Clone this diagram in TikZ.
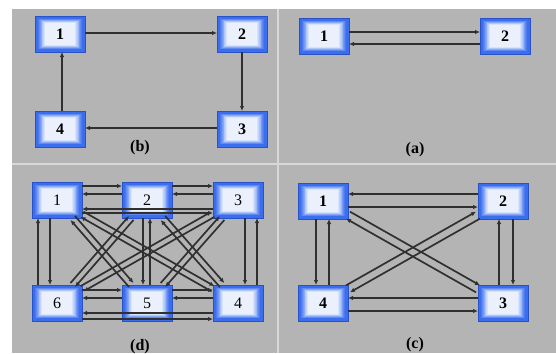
\documentclass[tikz,border=0pt]{standalone}
\usepackage{fontspec}
\setmainfont{Liberation Serif}
\usetikzlibrary{calc,arrows.meta}
\definecolor{panel}{HTML}{B4B4B4}
\definecolor{divider}{HTML}{D8D8D8}
\definecolor{boxblue}{HTML}{3A6EEE}
\definecolor{boxedge}{HTML}{2A52C8}
\definecolor{linec}{HTML}{303030}
\tikzset{
 box/.style={rectangle, minimum width=50pt, minimum height=36pt, inner sep=0pt, outer sep=0pt,
   fill=boxblue, draw=boxedge, line width=0.6pt, text=black,
   font=\fontsize{16}{18}\selectfont\bfseries,
   path picture={\foreach \k in {0,...,9}{\pgfmathtruncatemacro\p{\k*10}
     \fill[white!\p!boxblue] ($(path picture bounding box.south west)+(\k*0.8pt+2.5pt,\k*0.55pt+2pt)$) rectangle ($(path picture bounding box.north east)-(\k*0.8pt+2.5pt,\k*0.55pt+2pt)$);}}},
 dbox/.style={box, font=\fontsize{16}{18}\selectfont},
 ghost/.style={rectangle, minimum width=50pt, minimum height=36pt, inner sep=0pt, outer sep=0pt},
 conn/.style={draw=linec, line width=1.7pt, -{Latex[length=5pt,width=4.5pt]}},
 heavy/.style={line width=2.6pt},
 lbl/.style={font=\fontsize{16}{18}\selectfont\bfseries, text=black},
}
\newcommand\myarr[4][]{%
 \node[ghost] (#2#3s) at ($(#2)!#4pt!90:(#3)$) {};
 \node[ghost] (#2#3t) at ($(#3)!#4pt!-90:(#2)$) {};
 \draw[conn,#1] (#2#3s) -- (#2#3t);
}
\begin{document}
\begin{tikzpicture}[x=1pt,y=-1pt]
\useasboundingbox (0,0) rectangle (556,353);
\fill[white] (0,0) rectangle (556,353);
\fill[panel] (12,9) rectangle (556,353);
\draw[divider, line width=2pt] (278,9) -- (278,353);
\draw[divider, line width=2pt] (12,164) -- (556,164);

% panel (b)
\node[box] (b1) at (60,34) {1};
\node[box] (b2) at (242,34) {2};
\node[box] (b3) at (242,129) {3};
\node[box] (b4) at (60,129) {4};
\myarr{b1}{b2}{1}
\myarr{b2}{b3}{0}
\myarr{b3}{b4}{-1}
\myarr{b4}{b1}{-2}
\node[lbl] (lb) at (140,148) {(b)};

% panel (a)
\node[box] (a1) at (324,36) {1};
\node[box] (a2) at (505,36) {2};
\myarr{a1}{a2}{4}
\myarr{a2}{a1}{8}
\node[lbl] (la) at (415,150) {(a)};

% panel (c)
\node[box] (c1) at (323,201) {1};
\node[box] (c2) at (503,201) {2};
\node[box] (c3) at (503,303) {3};
\node[box] (c4) at (323,303) {4};
\myarr[heavy]{c2}{c1}{-7}
\myarr{c1}{c2}{-6}
\myarr[heavy]{c3}{c4}{-5}
\myarr{c4}{c3}{-8}
\myarr{c1}{c4}{-7}
\myarr[heavy]{c4}{c1}{-6}
\myarr{c3}{c2}{4}
\myarr{c2}{c3}{10}
\myarr{c1}{c3}{4}
\myarr{c3}{c1}{4}
\myarr{c2}{c4}{4}
\myarr{c4}{c2}{4}
\node[lbl] (lc) at (415,345) {(c)};

% panel (d)
\node[dbox] (d1) at (57,200) {1};
\node[dbox] (d2) at (147,200) {2};
\node[dbox] (d3) at (238,200) {3};
\node[dbox] (d6) at (57,303) {6};
\node[dbox] (d5) at (147,303) {5};
\node[dbox] (d4) at (238,303) {4};
\myarr{d1}{d2}{14}
\myarr{d2}{d1}{-6}
\myarr{d2}{d3}{14}
\myarr{d3}{d2}{-6}
\myarr{d3}{d1}{9}
\myarr{d1}{d3}{-13}
\myarr{d6}{d5}{13}
\myarr{d5}{d6}{-5}
\myarr{d5}{d4}{13}
\myarr{d4}{d5}{-5}
\myarr{d4}{d6}{10}
\myarr{d6}{d4}{-16}
\myarr{d6}{d1}{19}
\myarr{d1}{d6}{-7}
\myarr{d3}{d4}{7}
\myarr{d4}{d3}{-19}
\myarr{d2}{d5}{-4}
\myarr{d5}{d2}{-3}
\myarr{d1}{d4}{3}
\myarr{d4}{d1}{3}
\myarr{d1}{d5}{3}
\myarr{d5}{d1}{3}
\myarr{d2}{d6}{3}
\myarr{d6}{d2}{3}
\myarr{d2}{d4}{3}
\myarr{d4}{d2}{3}
\myarr{d3}{d6}{3}
\myarr{d6}{d3}{3}
\myarr{d3}{d5}{3}
\myarr{d5}{d3}{3}
\node[lbl] (ld) at (140,347) {(d)};
\end{tikzpicture}
\end{document}
